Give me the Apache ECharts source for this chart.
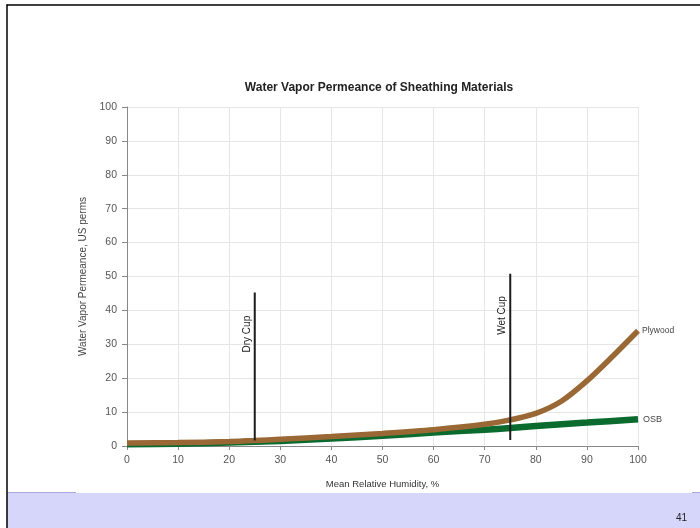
<!DOCTYPE html>
<html>
<head>
<meta charset="utf-8">
<script src="https://cdn.jsdelivr.net/npm/echarts@6/dist/echarts.min.js"></script>
<style>
html,body{margin:0;padding:0;background:#fff;}
#chart{width:700px;height:528px;}
</style>
</head>
<body>
<div id="chart"></div>
<script>
var titleText = 'Water Vapor Permeance of Sheathing Materials';
var xAxisName = 'Mean Relative Humidity, %';
var yAxisName = 'Water Vapor Permeance, US perms';
var pageNumber = '41';

var plywoodData = [[0,0.9],[10,1.0],[20,1.3],[25,1.6],[30,2.0],[40,2.8],[50,3.7],[60,4.8],[70,6.4],[75,7.7],[80,9.6],[85,13.2],[90,19.2],[95,26.4],[100,34.0]];
var osbData = [[0,0.5],[10,0.7],[20,1.0],[30,1.5],[40,2.2],[50,3.0],[60,4.0],[70,4.8],[75,5.3],[80,5.9],[90,6.9],[100,7.9]];
var dryCupData = [[25,1.6],[25,33],[25,45.3]];
var wetCupData = [[75,1.8],[75,38.5],[75,50.8]];

var chart = echarts.init(document.getElementById('chart'));
var font = 'Liberation Sans, Arial, sans-serif';

function cupSeries(name, data) {
  return {
    name: name, type: 'line', data: data, symbol: 'none', silent: true,
    lineStyle: {color: '#1c1c1c', width: 2},
    label: {show: false},
    z: 4,
    markPoint: {
      symbol: 'circle', symbolSize: 0,
      data: [{coord: data[1], value: name}],
      label: {show: true, formatter: name, rotate: 90, position: 'left', distance: 3,
        align: 'center', verticalAlign: 'bottom', color: '#222', fontSize: 10, fontFamily: font}
    }
  };
}

chart.setOption({
  backgroundColor: '#fff',
  animation: false,
  title: {
    text: titleText, left: 374, top: 77, textAlign: 'center',
    textStyle: {fontSize: 12, fontWeight: 'bold', color: '#222', fontFamily: font}
  },
  grid: {left: 127, right: 62, top: 107, bottom: 82},
  xAxis: {
    type: 'value', min: 0, max: 100, interval: 10,
    name: xAxisName, nameLocation: 'middle', nameGap: 33,
    nameTextStyle: {fontSize: 9.5, color: '#333', fontFamily: font},
    axisLine: {show: true, lineStyle: {color: '#888'}},
    axisTick: {show: true, length: 4, lineStyle: {color: '#888'}},
    axisLabel: {fontSize: 10.5, color: '#555', margin: 9, fontFamily: font},
    splitLine: {show: true, lineStyle: {color: '#e6e6e6'}}
  },
  yAxis: {
    type: 'value', min: 0, max: 100, interval: 10,
    name: yAxisName, nameLocation: 'middle', nameGap: 32, nameRotate: 90,
    nameTextStyle: {fontSize: 10, color: '#444', fontFamily: font},
    axisLine: {show: true, lineStyle: {color: '#888'}},
    axisTick: {show: true, length: 5, lineStyle: {color: '#888'}},
    axisLabel: {fontSize: 10.5, color: '#555', margin: 10, fontFamily: font},
    splitLine: {show: true, lineStyle: {color: '#e6e6e6'}}
  },
  series: [
    {
      name: 'OSB', type: 'line', data: osbData, smooth: 0.3, symbol: 'none',
      lineStyle: {color: '#0b6b2f', width: 6.5}, z: 2,
      endLabel: {show: true, formatter: 'OSB', fontSize: 9, color: '#444', distance: 5, fontFamily: font}
    },
    {
      name: 'Plywood', type: 'line', data: plywoodData, smooth: 0.3, symbol: 'none',
      lineStyle: {color: '#9a6835', width: 5.5}, z: 3,
      endLabel: {show: true, formatter: 'Plywood', fontSize: 8.5, color: '#444', distance: 4, fontFamily: font}
    },
    cupSeries('Dry Cup', dryCupData),
    cupSeries('Wet Cup', wetCupData)
  ],
  graphic: [
    {type: 'rect', shape: {x: 7, y: 493, width: 693, height: 35}, style: {fill: '#d6d6fa'}, z: -1},
    {type: 'line', shape: {x1: 7, y1: 492.5, x2: 76, y2: 492.5}, style: {stroke: '#a9a9dc', lineWidth: 1}},
    {type: 'line', shape: {x1: 692, y1: 492.5, x2: 700, y2: 492.5}, style: {stroke: '#a9a9dc', lineWidth: 1}},
    {type: 'line', shape: {x1: 6.5, y1: 5, x2: 700, y2: 5}, style: {stroke: '#000', lineWidth: 1.5}},
    {type: 'line', shape: {x1: 7, y1: 4.5, x2: 7, y2: 528}, style: {stroke: '#000', lineWidth: 1.5}},
    {type: 'text', left: 676, top: 513, style: {text: pageNumber, fontSize: 10, fill: '#222', fontFamily: font}}
  ]
});
</script>
</body>
</html>
